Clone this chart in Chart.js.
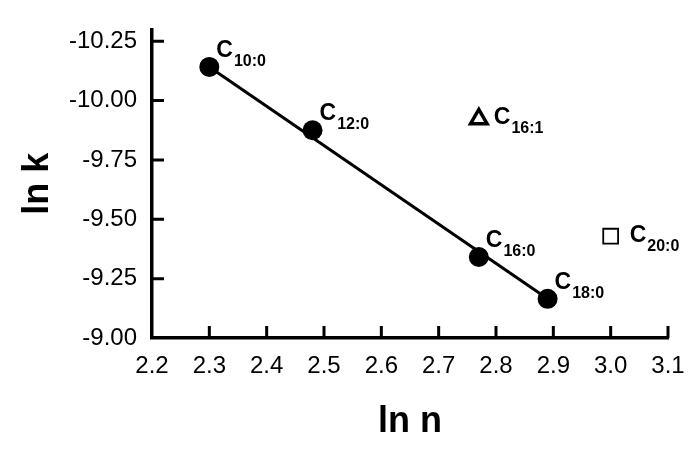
<!DOCTYPE html>
<html>
<head>
<meta charset="utf-8">
<script src="https://cdn.jsdelivr.net/npm/chart.js@4/dist/chart.umd.min.js"></script>
<style>
body { margin: 0; background: #fff; }
#wrap { width: 700px; height: 451px; }
</style>
</head>
<body>
<div id="wrap"><canvas id="plot"></canvas></div>
<script>
// saturated acids, ln n vs ln k
var satX = [2.30, 2.48, 2.77, 2.89];
var satY = [-10.142, -9.875, -9.341, -9.165];
var satNames = ['10:0', '12:0', '16:0', '18:0'];

var unsatX = [2.77];
var unsatY = [-9.923];
var unsatNames = ['16:1'];

var longX = [3.00];
var longY = [-9.429];
var longNames = ['20:0'];

// straight line through the saturated series
var fitX = [2.30, 2.89];
var fitY = [-10.142, -9.165];

var xTicks = [2.2, 2.3, 2.4, 2.5, 2.6, 2.7, 2.8, 2.9, 3.0, 3.1];
var yTicks = [-10.25, -10.00, -9.75, -9.50, -9.25, -9.00];

var FONT = '"Liberation Sans", Arial, Helvetica, sans-serif';

function pts(xs, ys) {
    return xs.map(function (x, i) { return {x: x, y: ys[i]}; });
}

var plotExtras = {
    id: 'plotExtras',
    afterDraw: function (chart) {
        var ctx = chart.ctx;
        var xs = chart.scales.x, ys = chart.scales.y;
        var area = chart.chartArea;
        ctx.save();
        // inward tick marks
        ctx.strokeStyle = '#000';
        ctx.lineWidth = 3;
        ctx.beginPath();
        xTicks.forEach(function (v) {
            if (v === xs.min) return;
            var px = xs.getPixelForValue(v);
            ctx.moveTo(px, area.bottom);
            ctx.lineTo(px, area.bottom - 12);
        });
        yTicks.forEach(function (v) {
            if (v === ys.max) return;
            var py = ys.getPixelForValue(v);
            ctx.moveTo(area.left, py);
            ctx.lineTo(area.left + 12, py);
        });
        ctx.stroke();

        // point labels: C with subscript
        ctx.fillStyle = '#000';
        ctx.textAlign = 'left';
        ctx.textBaseline = 'alphabetic';
        chart.data.datasets.forEach(function (ds, di) {
            if (!ds.names) return;
            var meta = chart.getDatasetMeta(di);
            ds.names.forEach(function (name, i) {
                var el = meta.data[i];
                var bx = el.x + ds.labelDx;
                var by = el.y + ds.labelDy;
                ctx.font = 'bold 23px ' + FONT;
                ctx.fillText('C', bx, by);
                var w = ctx.measureText('C').width;
                ctx.font = 'bold 16px ' + FONT;
                ctx.fillText(name, bx + w + 1, by + 9);
            });
        });
        ctx.restore();
    }
};

new Chart(document.getElementById('plot'), {
    type: 'scatter',
    data: {
        datasets: [
            {
                label: 'saturated',
                data: pts(satX, satY),
                names: satNames,
                labelDx: 7,
                labelDy: -10,
                pointStyle: 'circle',
                pointRadius: 10,
                pointBackgroundColor: '#000',
                pointBorderColor: '#000',
                pointBorderWidth: 0
            },
            {
                label: 'unsaturated',
                data: pts(unsatX, unsatY),
                names: unsatNames,
                labelDx: 15,
                labelDy: 5,
                pointStyle: 'triangle',
                pointRadius: 9.5,
                pointBackgroundColor: 'rgba(255,255,255,0)',
                pointBorderColor: '#000',
                pointBorderWidth: 3.5
            },
            {
                label: 'long',
                data: pts(longX, longY),
                names: longNames,
                labelDx: 19,
                labelDy: 6,
                pointStyle: 'rect',
                pointRadius: 10.5,
                pointBackgroundColor: 'rgba(255,255,255,0)',
                pointBorderColor: '#000',
                pointBorderWidth: 1.8
            },
            {
                label: 'fit',
                data: pts(fitX, fitY),
                showLine: true,
                borderColor: '#000',
                borderWidth: 3,
                pointRadius: 0
            }
        ]
    },
    options: {
        responsive: true,
        maintainAspectRatio: false,
        animation: false,
        layout: {padding: {top: 14, right: 32, bottom: 0, left: 0}},
        plugins: {legend: {display: false}, tooltip: {enabled: false}},
        scales: {
            x: {
                type: 'linear', min: 2.2, max: 3.1,
                afterBuildTicks: function (s) { s.ticks = xTicks.map(function (v) { return {value: v}; }); },
                afterFit: function (s) { s.height = 113; },
                grid: {display: false, drawTicks: false},
                border: {display: true, color: '#000', width: 3.5},
                ticks: {
                    color: '#000', padding: 14, maxRotation: 0, autoSkip: false,
                    font: {family: FONT, size: 24},
                    callback: function (v) { return v.toFixed(1); }
                },
                title: {
                    display: true, text: 'ln n', color: '#000',
                    font: {family: FONT, size: 36, weight: 'bold'},
                    padding: {top: 0, bottom: 7}
                }
            },
            y: {
                type: 'linear', reverse: true, min: -10.30, max: -9.0,
                afterBuildTicks: function (s) { s.ticks = yTicks.map(function (v) { return {value: v}; }); },
                afterFit: function (s) { s.width = 152; },
                grid: {display: false, drawTicks: false},
                border: {display: true, color: '#000', width: 3.5},
                ticks: {
                    color: '#000', padding: 15, autoSkip: false,
                    font: {family: FONT, size: 24},
                    callback: function (v) { return v.toFixed(2); }
                },
                title: {
                    display: true, text: 'ln k', color: '#000',
                    font: {family: FONT, size: 36, weight: 'bold'},
                    padding: {top: 16, bottom: 0}
                }
            }
        }
    },
    plugins: [plotExtras]
});
</script>
</body>
</html>
